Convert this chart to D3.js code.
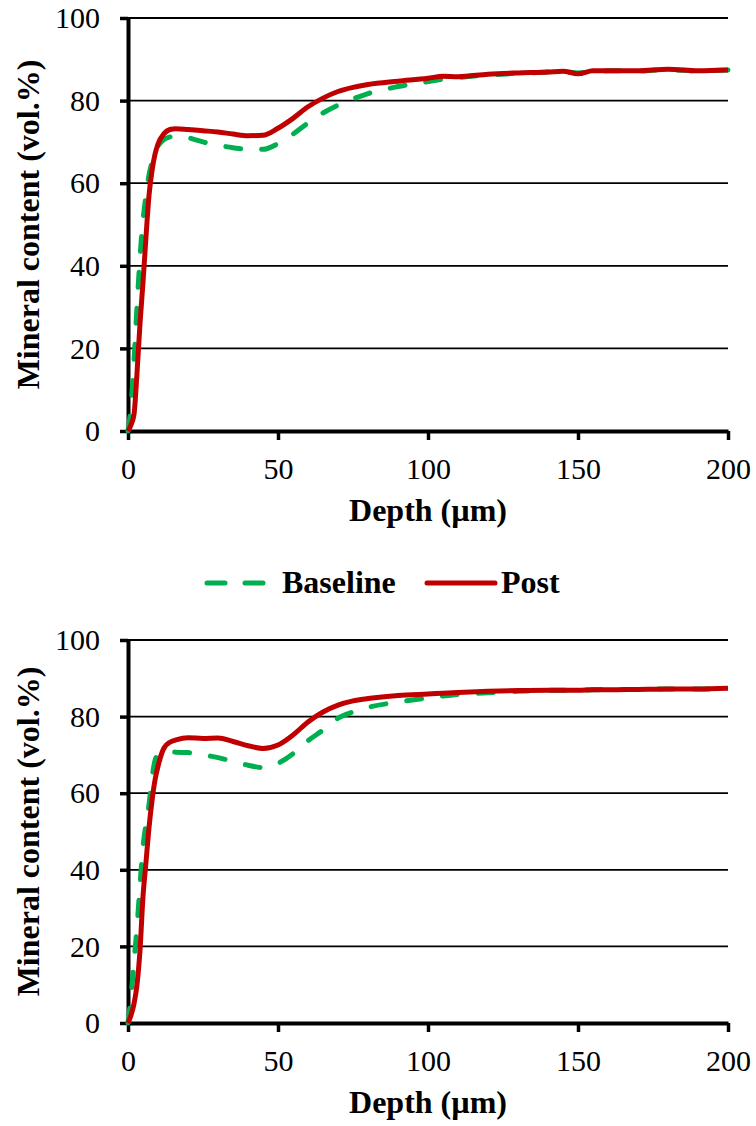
<!DOCTYPE html>
<html>
<head>
<meta charset="utf-8">
<script src="https://cdnjs.cloudflare.com/ajax/libs/d3/7.8.5/d3.min.js"></script>
<style>
	body { margin: 0; background: #fff; }
	svg text { font-family: "Liberation Serif", "Times New Roman", serif; fill: #000; }
</style>
</head>
<body>
<div id="svg_div"><svg></svg></div>
<script>
// chart values
var depth = [0, 1, 2, 3, 4, 5, 6, 7, 8, 9, 10, 12, 14, 16, 20, 25, 30, 35, 40, 45, 50, 55, 60, 65, 70, 75, 80, 90, 100, 105, 110, 120, 130, 140, 145, 150, 155, 160, 170, 180, 190, 200];

var baselineTop = [0, 6, 17, 30, 42, 51, 57, 62, 65, 67.5, 69, 70.6, 71.2, 71.4, 71, 70, 69.2, 68.6, 68.2, 68.2, 69.6, 71.9, 74.6, 77, 78.9, 80.4, 81.7, 83.4, 84.6, 85.2, 85.6, 86.2, 86.6, 86.9, 87, 86.7, 87.1, 87.2, 87.2, 87.5, 87.2, 87.4];
var postTop = [0, 1.5, 4, 14, 26, 36, 47, 57, 63, 67, 69.5, 72, 73, 73.2, 73, 72.7, 72.4, 71.9, 71.5, 71.6, 73.3, 75.7, 78.5, 80.6, 82.2, 83.2, 83.9, 84.7, 85.4, 85.9, 85.8, 86.4, 86.7, 86.9, 87.1, 86.5, 87.2, 87.2, 87.2, 87.6, 87.2, 87.4];

var baselineBottom = [0, 7, 16, 25, 36, 46, 52, 57, 64, 68.5, 70, 70.8, 70.8, 70.7, 70.6, 70, 69.3, 68.3, 67.3, 66.7, 67.8, 70.3, 73.7, 76.5, 79.6, 81.2, 82.4, 83.8, 84.9, 85.4, 85.8, 86.2, 86.6, 86.9, 86.9, 86.9, 87, 87.1, 87.1, 87.2, 87.2, 87.4];
var postBottom = [0, 2, 5, 10, 19, 33, 42, 51, 58, 63.4, 67, 71.8, 73.3, 73.9, 74.5, 74.3, 74.4, 73.5, 72.4, 71.7, 72.6, 75.2, 78.6, 81.2, 83, 84.1, 84.7, 85.5, 85.9, 86.1, 86.3, 86.6, 86.8, 86.9, 86.9, 86.9, 87, 87, 87.1, 87.2, 87.2, 87.4];

var xTicks = [0, 50, 100, 150, 200];
var yTicks = [0, 20, 40, 60, 80, 100];
var seriesNames = ["Baseline", "Post"];
var seriesColors = ["#00B050", "#C00000"];
var xTitle = "Depth (\u00b5m)";
var yTitle = "Mineral content (vol.%)";
var fontFam = "'Liberation Serif', 'Times New Roman', serif";

var w = 756, h = 1126;
var svg = d3.select("#svg_div").select("svg")
	.attr("width", w)
	.attr("height", h);

// draw one panel
function drawPanel(top, bottom, baseVals, postVals) {
	var left = 128, right = 728;
	var xScale = d3.scaleLinear().domain([0, 200]).range([left, right]);
	var yScale = d3.scaleLinear().domain([0, 100]).range([bottom, top]);
	var g = svg.append("g");

	// gridlines
	g.selectAll(".grid")
		.data(yTicks.slice(1))
		.enter()
		.append("line")
		.attr("x1", left)
		.attr("x2", right)
		.attr("y1", function(d) { return yScale(d); })
		.attr("y2", function(d) { return yScale(d); })
		.attr("stroke", "#000")
		.attr("stroke-width", 1.8);

	var xAxis = d3.axisBottom(xScale)
		.tickValues(xTicks)
		.tickSizeInner(9)
		.tickSizeOuter(0)
		.tickPadding(18);
	var yAxis = d3.axisLeft(yScale)
		.tickValues(yTicks)
		.tickSizeInner(8)
		.tickSizeOuter(0)
		.tickPadding(20);

	var gx = g.append("g")
		.attr("transform", "translate(0," + bottom + ")")
		.call(xAxis);
	var gy = g.append("g")
		.attr("transform", "translate(" + left + ",0)")
		.call(yAxis);
	[gx, gy].forEach(function(a) {
		a.attr("font-family", fontFam).attr("font-size", 30);
		a.select(".domain").attr("stroke", "#000").attr("stroke-width", 4);
		a.selectAll(".tick line").attr("stroke", "#000").attr("stroke-width", 3.5);
		a.selectAll(".tick text")
			.attr("font-size", "30px")
			.attr("font-family", fontFam)
			.attr("fill", "#000");
	});

	// axis titles
	g.append("text")
		.attr("x", (left + right) / 2)
		.attr("y", bottom + 90)
		.attr("text-anchor", "middle")
		.attr("font-family", fontFam)
		.attr("font-size", "32px")
		.attr("font-weight", "bold")
		.text(xTitle);
	g.append("text")
		.attr("transform", "translate(39," + ((top + bottom) / 2) + ") rotate(-90)")
		.attr("text-anchor", "middle")
		.attr("font-family", fontFam)
		.attr("font-size", "32px")
		.attr("font-weight", "bold")
		.text(yTitle);

	var line = d3.line()
		.x(function(d, i) { return xScale(depth[i]); })
		.y(function(d) { return yScale(d); })
		.curve(d3.curveMonotoneX);

	g.append("path")
		.datum(baseVals)
		.attr("d", line)
		.attr("fill", "none")
		.attr("stroke", seriesColors[0])
		.attr("stroke-width", 5)
		.attr("stroke-linecap", "round")
		.attr("stroke-dasharray", "15,21");
	g.append("path")
		.datum(postVals)
		.attr("d", line)
		.attr("fill", "none")
		.attr("stroke", seriesColors[1])
		.attr("stroke-width", 5)
		.attr("stroke-linejoin", "round");
}

drawPanel(18, 431, baselineTop, postTop);
drawPanel(640, 1023, baselineBottom, postBottom);

// legend
var legend = svg.append("g")
	.attr("font-family", fontFam);
legend.append("line")
	.attr("x1", 207).attr("x2", 266)
	.attr("y1", 583).attr("y2", 583)
	.attr("stroke", seriesColors[0])
	.attr("stroke-width", 5)
	.attr("stroke-linecap", "round")
	.attr("stroke-dasharray", "18,20");
legend.append("text")
	.attr("x", 282).attr("y", 593)
	.attr("font-family", fontFam)
	.attr("font-size", "32px")
	.attr("font-weight", "bold")
	.text(seriesNames[0]);
legend.append("line")
	.attr("x1", 427).attr("x2", 495)
	.attr("y1", 583).attr("y2", 583)
	.attr("stroke", seriesColors[1])
	.attr("stroke-width", 5)
	.attr("stroke-linecap", "round");
legend.append("text")
	.attr("x", 501).attr("y", 593)
	.attr("font-family", fontFam)
	.attr("font-size", "32px")
	.attr("font-weight", "bold")
	.text(seriesNames[1]);
</script>
</body>
</html>
